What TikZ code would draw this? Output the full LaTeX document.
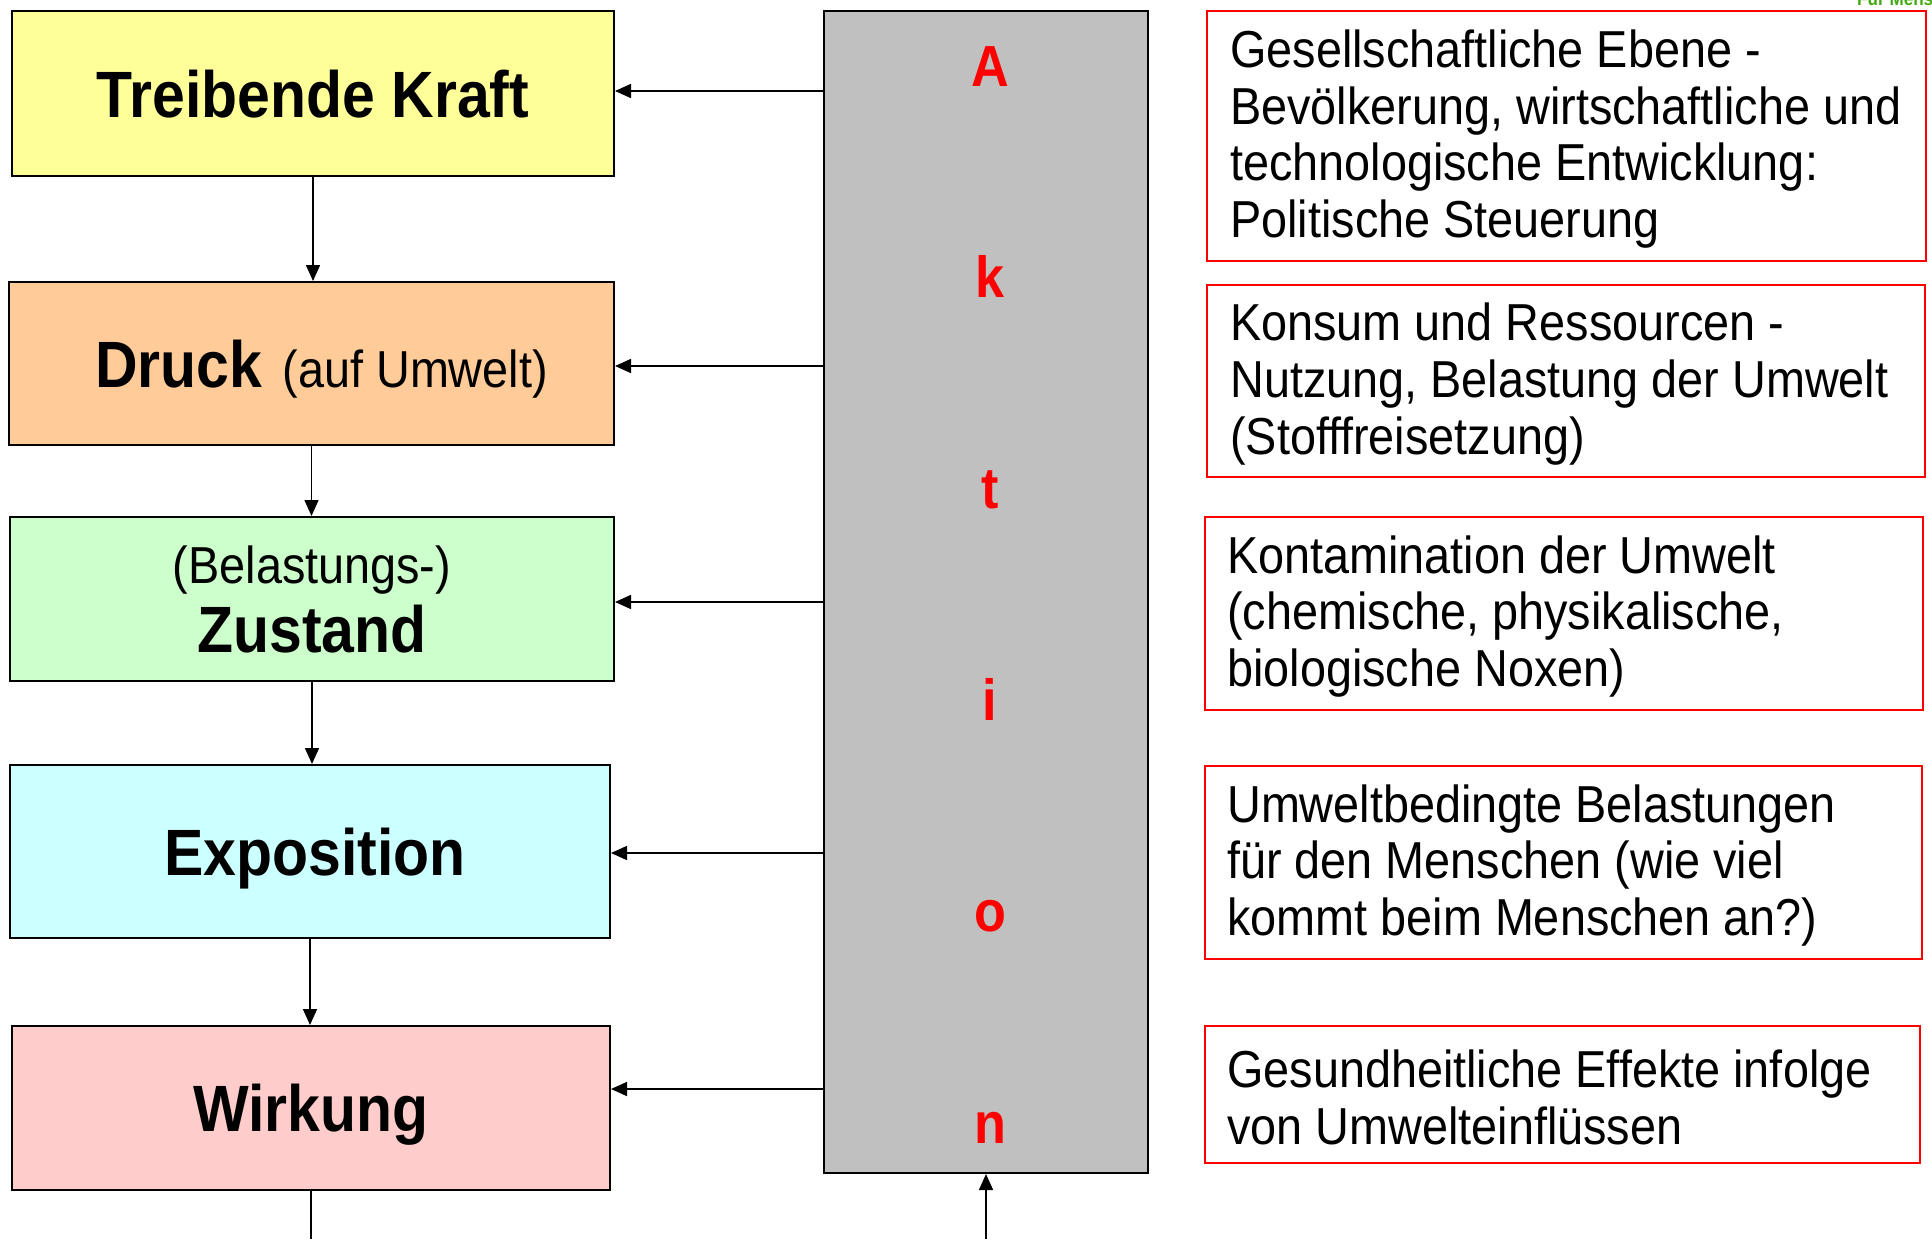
\documentclass[tikz,border=0pt]{standalone}
\usepackage{fontspec}
\setmainfont{Liberation Sans}[FakeStretch=0.9]
\usetikzlibrary{arrows.meta}
\definecolor{cyel}{HTML}{FFFF99}
\definecolor{corg}{HTML}{FFCC99}
\definecolor{cgrn}{HTML}{CCFFCC}
\definecolor{ccya}{HTML}{CCFFFF}
\definecolor{cpnk}{HTML}{FFCCCC}
\definecolor{cgry}{HTML}{C0C0C0}
\definecolor{cred}{HTML}{FF0000}
\definecolor{cgtx}{HTML}{44AA11}
\tikzset{
  lbox/.style={draw=black, line width=2pt, inner sep=0pt, text depth=0pt, align=center,
    font=\fontsize{65.5}{69}\selectfont\bfseries},
  rbox/.style={draw=cred, line width=2pt, inner sep=0pt},
  rtext/.style={anchor=west, align=left, inner sep=0pt, font=\fontsize{52}{56.7}\selectfont},
  letter/.style={anchor=base, text=cred, inner sep=0pt, font=\fontsize{58}{60}\selectfont\bfseries},
  arr/.style={-{Triangle[length=16pt,width=14pt]}, line width=1.6pt},
  plain/.style={line width=1.6pt}
}
\begin{document}
\begin{tikzpicture}[x=1pt,y=-1pt]
\useasboundingbox (0,0) rectangle (1932,1239);

% left column
\node[lbox, fill=cyel, minimum width=602pt, minimum height=165pt] (tk) at (313,93.5) {Treibende Kraft};
\node[lbox, fill=corg, minimum width=605pt, minimum height=163pt] (dr) at (311.5,363.5) {\hspace*{20pt}Druck\hspace{4pt} {\fontsize{52}{60}\selectfont\mdseries (auf Umwelt)}};
\node[lbox, fill=cgrn, minimum width=604pt, minimum height=164pt, font=\fontsize{52}{69}\selectfont] (zu) at (312,599) {(Belastungs-)\\{\fontsize{65.5}{69}\selectfont\bfseries Zustand}};
\node[lbox, fill=ccya, minimum width=600pt, minimum height=173pt] (ex) at (310,851.5) {\hspace*{10pt}Exposition};
\node[lbox, fill=cpnk, minimum width=598pt, minimum height=164pt] (wk) at (311,1108) {Wirkung};

% gray column
\node[draw=black, line width=2pt, fill=cgry, minimum width=324pt, minimum height=1162pt, inner sep=0pt] (gray) at (986,592) {};
\node[letter] (l1) at (990,86) {A};
\node[letter] (l2) at (990,297.4) {k};
\node[letter] (l3) at (990,508.8) {t};
\node[letter] (l4) at (990,720.2) {i};
\node[letter] (l5) at (990,931.6) {o};
\node[letter] (l6) at (990,1143) {n};

% right column
\node[rbox, minimum width=719pt, minimum height=250pt] (r1) at (1566.5,136) {};
\node[rbox, minimum width=718pt, minimum height=192pt] (r2) at (1566,381) {};
\node[rbox, minimum width=718pt, minimum height=193pt] (r3) at (1564,613.5) {};
\node[rbox, minimum width=717pt, minimum height=193pt] (r4) at (1563.5,862.5) {};
\node[rbox, minimum width=715pt, minimum height=137pt] (r5) at (1562.5,1094.5) {};

\node[rtext] (t1) at ([xshift=24pt,yshift=-3pt]r1.west) {Gesellschaftliche Ebene -\\Bevölkerung, wirtschaftliche und\\technologische Entwicklung:\\Politische Steuerung};
\node[rtext] (t2) at ([xshift=24pt,yshift=-3pt]r2.west) {Konsum und Ressourcen -\\Nutzung, Belastung der Umwelt\\(Stofffreisetzung)};
\node[rtext] (t3) at ([xshift=23pt,yshift=-3pt]r3.west) {Kontamination der Umwelt\\(chemische, physikalische,\\biologische Noxen)};
\node[rtext] (t4) at ([xshift=23pt,yshift=-3pt]r4.west) {Umweltbedingte Belastungen\\für den Menschen (wie viel\\kommt beim Menschen an?)};
\node[rtext] (t5) at ([xshift=23pt,yshift=-3pt]r5.west) {Gesundheitliche Effekte infolge\\von Umwelteinflüssen};

% green note at top right, cut off by the page edge as in the reference
\node[anchor=base west, inner sep=0pt, text=cgtx, font=\fontsize{19}{20}\selectfont\bfseries] (note) at (1857,6) {Für Menschen};

% vertical arrows
\draw[arr] (tk.south) -- (tk.south |- dr.north);
\draw[arr] (dr.south) -- (dr.south |- zu.north);
\draw[arr] (zu.south) -- (zu.south |- ex.north);
\draw[arr] (ex.south) -- (ex.south |- wk.north);
\coordinate (bl) at (310,1239);
\draw[plain] (wk.south) -- (wk.south |- bl);
\coordinate (br) at (986,1239);
\draw[arr] (gray.south |- br) -- (gray.south);

% horizontal arrows
\coordinate (ha) at ([yshift=2.5pt]tk.east);
\coordinate (hb) at ([yshift=-2.5pt]dr.east);
\coordinate (hc) at ([yshift=-3pt]zu.east);
\coordinate (hd) at ([yshift=-1.5pt]ex.east);
\coordinate (he) at ([yshift=19pt]wk.east);
\draw[arr] (ha -| gray.west) -- (ha);
\draw[arr] (hb -| gray.west) -- (hb);
\draw[arr] (hc -| gray.west) -- (hc);
\draw[arr] (hd -| gray.west) -- (hd);
\draw[arr] (he -| gray.west) -- (he);
\end{tikzpicture}
\end{document}
